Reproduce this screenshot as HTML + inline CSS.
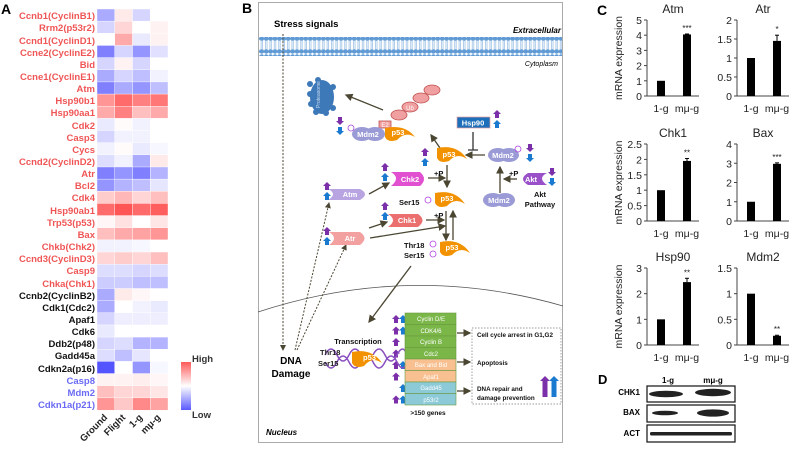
<!DOCTYPE html>
<html><head><meta charset="utf-8"><style>
html,body{margin:0;padding:0;background:#fff;width:800px;height:454px;overflow:hidden}
svg{display:block;font-family:"Liberation Sans",Arial,sans-serif}
</style></head><body>
<svg id="s" width="800" height="454" viewBox="0 0 800 454" xmlns="http://www.w3.org/2000/svg">
<defs>
<linearGradient id="lg" x1="0" y1="0" x2="0" y2="1"><stop offset="0" stop-color="#ff5a5a"/><stop offset="0.5" stop-color="#fff"/><stop offset="1" stop-color="#5a5aff"/></linearGradient>
<marker id="ah" markerWidth="6" markerHeight="6" refX="5" refY="3" orient="auto"><path d="M0,0 L6,3 L0,6 z" fill="#4a4632"/></marker>
<pattern id="mem" width="4.4" height="18" patternUnits="userSpaceOnUse"><circle cx="2.2" cy="2.6" r="2.3" fill="#5f9ad4"/><circle cx="2.2" cy="15.4" r="2.3" fill="#5f9ad4"/><line x1="1.5" y1="4" x2="1.5" y2="14" stroke="#8fb8e2" stroke-width="0.7"/><line x1="3" y1="4" x2="3" y2="14" stroke="#8fb8e2" stroke-width="0.7"/></pattern>
</defs>
<!-- Panel A -->
<text x="1" y="14" font-size="14" font-weight="bold">A</text>
<g id="heat"></g>
<g font-size="9.5" font-weight="bold" text-anchor="end">
<g fill="#f05555">
<text x="95" y="19">Ccnb1(CyclinB1)</text><text x="95" y="31">Rrm2(p53r2)</text><text x="95" y="44">Ccnd1(CyclinD1)</text><text x="95" y="56">Ccne2(CyclinE2)</text><text x="95" y="68">Bid</text><text x="95" y="80">Ccne1(CyclinE1)</text><text x="95" y="92">Atm</text><text x="95" y="104">Hsp90b1</text><text x="95" y="116">Hsp90aa1</text><text x="95" y="129">Cdk2</text><text x="95" y="141">Casp3</text><text x="95" y="153">Cycs</text><text x="95" y="165">Ccnd2(CyclinD2)</text><text x="95" y="177">Atr</text><text x="95" y="189">Bcl2</text><text x="95" y="201">Cdk4</text><text x="95" y="214">Hsp90ab1</text><text x="95" y="226">Trp53(p53)</text><text x="95" y="238">Bax</text><text x="95" y="250">Chkb(Chk2)</text><text x="95" y="262">Ccnd3(CyclinD3)</text><text x="95" y="274">Casp9</text><text x="95" y="287">Chka(Chk1)</text>
</g>
<g fill="#111">
<text x="95" y="299">Ccnb2(CyclinB2)</text><text x="95" y="311">Cdk1(Cdc2)</text><text x="95" y="323">Apaf1</text><text x="95" y="335">Cdk6</text><text x="95" y="347">Ddb2(p48)</text><text x="95" y="359">Gadd45a</text><text x="95" y="372">Cdkn2a(p16)</text>
</g>
<g fill="#6a6af5">
<text x="95" y="384">Casp8</text><text x="95" y="396">Mdm2</text><text x="95" y="408">Cdkn1a(p21)</text>
</g>
</g>
<rect x="181" y="362" width="10" height="48" fill="url(#lg)"/>
<text x="192" y="362" font-size="9.5" font-weight="bold" fill="#333">High</text>
<text x="192" y="418" font-size="9.5" font-weight="bold" fill="#333">Low</text>
<g font-size="9.5" font-weight="bold" fill="#222" text-anchor="end">
<text transform="translate(108,418) rotate(-45)">Ground</text>
<text transform="translate(126,418) rotate(-45)">Flight</text>
<text transform="translate(143,418) rotate(-45)">1-g</text>
<text transform="translate(161,418) rotate(-45)">mμ-g</text>
</g>
<!-- Panel B -->
<text x="242" y="13" font-size="14" font-weight="bold">B</text>
<rect x="258.5" y="2.5" width="304" height="440" fill="#fff" stroke="#aaa" stroke-width="1"/>
<rect x="259" y="37" width="303" height="19" fill="url(#mem)"/>
<text x="274" y="27" font-size="9.5" font-weight="bold">Stress signals</text>
<text x="561" y="33" font-size="8" font-weight="bold" font-style="italic" text-anchor="end">Extracellular</text>
<text x="558" y="66" font-size="7" font-style="italic" text-anchor="end">Cytoplasm</text>
<path d="M258,312 Q410,262 563,306" fill="none" stroke="#555" stroke-width="0.8"/>
<text x="266" y="435" font-size="8" font-weight="bold" font-style="italic">Nucleus</text>
<g stroke="#4a4632" stroke-width="1" fill="none" stroke-dasharray="2,1.5" marker-end="url(#ah)">
<line x1="283" y1="34" x2="283" y2="350"/>
<line x1="295" y1="350" x2="329" y2="203"/>
<line x1="297" y1="350" x2="346" y2="245"/>
</g>
<g fill="#3d78b8">
<ellipse cx="322" cy="97" rx="12" ry="17"/><circle cx="310" cy="84" r="3"/><circle cx="310" cy="94" r="3"/><circle cx="311" cy="104" r="3"/><circle cx="316" cy="112" r="3"/><circle cx="326" cy="113" r="3"/><circle cx="333" cy="108" r="3"/><circle cx="333" cy="87" r="3"/><circle cx="318" cy="80" r="3"/>
</g>
<text transform="translate(320,108) rotate(-90)" font-size="5" fill="#cde">Proteasome</text>
<g stroke="#4a4632" stroke-width="1.3" fill="none" marker-end="url(#ah)">
<line x1="383" y1="110" x2="346" y2="95"/>
<line x1="440" y1="148" x2="431" y2="135"/>
<line x1="485" y1="155" x2="466" y2="155"/>
<line x1="447" y1="165" x2="447" y2="187"/>
<line x1="428" y1="178" x2="445" y2="178"/>
<line x1="517" y1="179" x2="504" y2="179"/>
<line x1="500" y1="193" x2="500" y2="167"/>
<line x1="369" y1="194" x2="389" y2="183"/>
<line x1="369" y1="228" x2="387" y2="222"/>
<line x1="426" y1="220" x2="444" y2="220"/>
<line x1="370" y1="238" x2="445" y2="226"/>
<line x1="446" y1="211" x2="446" y2="240"/>
<line x1="453" y1="240" x2="453" y2="211"/>
<line x1="411" y1="266" x2="369" y2="322"/>
<line x1="457" y1="333" x2="470" y2="333"/>
<line x1="457" y1="362" x2="470" y2="362"/>
<line x1="457" y1="391" x2="470" y2="391"/>
</g>
<path d="M473,132 V150 M468,150 H478" stroke="#333" stroke-width="1.3"/>
<g fill="#f0a0a0" stroke="#c05050" stroke-width="0.8">
<ellipse cx="432" cy="90" rx="8" ry="5"/><ellipse cx="421" cy="98" rx="8" ry="5"/><ellipse cx="410" cy="107" rx="8" ry="5"/><ellipse cx="399" cy="115" rx="8" ry="5"/>
<rect x="379" y="121" width="12" height="7"/>
</g>
<text x="410" y="110" font-size="6" fill="#fff" text-anchor="middle">Ub</text>
<text x="385" y="127" font-size="6" fill="#fff" text-anchor="middle">E2</text>
<g font-size="7.5" font-weight="bold" fill="#fff" text-anchor="middle">
<ellipse cx="362" cy="134" rx="10" ry="7" fill="#9a9ad6"/><ellipse cx="375" cy="134" rx="10" ry="7" fill="#9a9ad6"/><text x="368" y="137">Mdm2</text>
<path d="M385,128 Q405,124 415,137 Q405,131 397,140 Q388,143 385,137 z" fill="#f39200"/><text x="398" y="135">p53</text>
<path d="M437,148 Q457,144 467,159 Q457,152 449,161 Q440,164 437,158 z" fill="#f39200"/><text x="449" y="157">p53</text>
<ellipse cx="498" cy="155" rx="10" ry="7" fill="#9a9ad6"/><ellipse cx="509" cy="155" rx="10" ry="7" fill="#9a9ad6"/><text x="503" y="158">Mdm2</text>
<ellipse cx="493" cy="200" rx="10" ry="7" fill="#9a9ad6"/><ellipse cx="505" cy="200" rx="10" ry="7" fill="#9a9ad6"/><text x="499" y="203">Mdm2</text>
<path d="M547,173 Q537,178 547,185 L528,185 Q518,179 528,173 z" fill="#9a50c8"/><text x="531" y="182">Akt</text>
<path d="M391,172 Q401,178 391,186 L420,186 Q428,179 420,172 z" fill="#e050d0"/><text x="410" y="182">Chk2</text>
<path d="M328,189 Q338,194 328,200 L360,200 Q370,194 360,189 z" fill="#b8a4e0"/><text x="350" y="197">Atm</text>
<path d="M388,214 Q398,220 388,227 L418,227 Q427,220 418,214 z" fill="#ec6f6f"/><text x="407" y="223">Chk1</text>
<path d="M329,232 Q339,238 329,245 L360,245 Q369,238 360,232 z" fill="#f2a0a0"/><text x="350" y="241">Atr</text>
<path d="M435,193 Q455,189 465,204 Q455,197 447,206 Q438,209 435,203 z" fill="#f39200"/><text x="447" y="201">p53</text>
<path d="M440,242 Q460,238 470,253 Q460,246 452,255 Q443,258 440,252 z" fill="#f39200"/><text x="452" y="250">p53</text>
<rect x="457" y="117" width="33" height="11" fill="#1e6fba" stroke="#e8a0a0" stroke-width="0.7"/><text x="473" y="125.5" font-size="7.5">Hsp90</text>
</g>
<g fill="none" stroke="#b040e0" stroke-width="0.8">
<circle cx="351" cy="128" r="3"/><circle cx="518" cy="149" r="3"/><circle cx="428" cy="200" r="3"/><circle cx="433" cy="244" r="3"/><circle cx="433" cy="254" r="3"/>
</g>
<g font-size="7.5" font-weight="bold" fill="#111">
<text x="434" y="176">+P</text><text x="509" y="176">+P</text><text x="434" y="218">+P</text>
<text x="399" y="205">Ser15</text><text x="404" y="248">Thr18</text><text x="404" y="258">Ser15</text>
<text x="540" y="197" text-anchor="middle">Akt</text><text x="540" y="207" text-anchor="middle">Pathway</text>
<text x="358" y="344" text-anchor="middle">Transcription</text>
<text x="428" y="415" text-anchor="middle" font-size="6.5">&gt;150 genes</text>
</g>
<text x="291" y="364" font-size="10" font-weight="bold" text-anchor="middle">DNA</text>
<text x="291" y="377" font-size="10" font-weight="bold" text-anchor="middle">Damage</text>
<g id="arrs"></g>
<path d="M325,355 q6,-12 12,0 t12,0 t12,0 t12,0 t12,0 t12,0 t10,0 M325,362 q6,12 12,0 t12,0 t12,0 t12,0 t12,0 t12,0 t10,0" stroke="#8a50c0" stroke-width="1.5" fill="none"/>
<g font-size="7.5" font-weight="bold" fill="#222"><text x="320" y="355">Thr18</text><text x="318" y="366">Ser15</text></g>
<path d="M352,352 Q372,348 382,363 Q372,356 364,366 Q355,369 352,363 z" fill="#f39200"/>
<text x="363" y="360" font-size="7.5" font-weight="bold" fill="#fff">p53</text>
<g stroke="#6a9a40" stroke-width="0.6">
<rect x="405" y="313" width="51" height="11.5" fill="#7ab648"/><rect x="405" y="324.5" width="51" height="11.5" fill="#7ab648"/><rect x="405" y="336" width="51" height="11.5" fill="#7ab648"/><rect x="405" y="347.5" width="51" height="11.5" fill="#7ab648"/>
<rect x="405" y="359" width="51" height="11.5" fill="#f8c090"/><rect x="405" y="370.5" width="51" height="11.5" fill="#f8c090"/><rect x="405" y="382" width="51" height="11.5" fill="#8ccad8"/><rect x="405" y="393.5" width="51" height="11.5" fill="#8ccad8"/>
</g>
<g font-size="6" fill="#fff" text-anchor="middle">
<text x="431" y="321">Cyclin D/E</text><text x="431" y="333">CDK4/6</text><text x="431" y="344">Cyclin B</text><text x="431" y="356">Cdc2</text><text x="431" y="367">Bax and Bid</text><text x="431" y="379">Apaf1</text><text x="431" y="390">Gadd45</text><text x="431" y="402">p53r2</text>
</g>
<rect x="472" y="328" width="89" height="76" fill="none" stroke="#777" stroke-dasharray="1.5,1.5" stroke-width="0.7"/>
<g font-size="6.3" font-weight="bold" fill="#111">
<text x="477" y="337">Cell cycle arrest in G1,G2</text><text x="477" y="365">Apoptosis</text><text x="477" y="391">DNA repair and</text><text x="477" y="400">damage prevention</text>
</g>
<!-- Panel C -->
<text x="597" y="15" font-size="14" font-weight="bold">C</text>
<g id="charts" font-size="10.5" fill="#222"></g>
<!-- Panel D -->
<text x="598" y="384" font-size="13" font-weight="bold">D</text>
<text x="668" y="383" font-size="8" font-weight="bold" text-anchor="middle">1-g</text>
<text x="713" y="383" font-size="8" font-weight="bold" text-anchor="middle">mμ-g</text>
<g font-size="8" font-weight="bold" text-anchor="end"><text x="640" y="395">CHK1</text><text x="640" y="415">BAX</text><text x="640" y="436">ACT</text></g>
<g fill="#fff" stroke="#111" stroke-width="1.2"><rect x="647" y="386" width="88" height="16"/><rect x="647" y="405" width="88" height="17"/><rect x="647" y="425" width="88" height="17"/></g>
<g fill="#222"><ellipse cx="666" cy="394" rx="17" ry="3.2"/><ellipse cx="713" cy="392.5" rx="18" ry="3.7"/><ellipse cx="665" cy="413" rx="13" ry="2.3"/><ellipse cx="713" cy="413" rx="16" ry="3.6"/><rect x="650" y="432" width="82" height="3.5" rx="1.5"/></g>
</svg>
<script>
var NS="http://www.w3.org/2000/svg";
function el(p,t,a){var e=document.createElementNS(NS,t);for(var k in a)e.setAttribute(k,a[k]);p.appendChild(e);return e;}
var H=[[-2,.5,-1,0],[-1,1,0,.3],[0,2,-.5,.3],[-3,-1,-2.5,-.7],[-1,.3,-1,0],[-2,-1,-1.5,-.3],[-3,-2,-2.5,-1.5],[2.5,3.5,3,3.2],[2,3,1.5,2],[-.5,.1,-.3,0],[-1,-.3,-.3,0],[-.3,.1,-.5,-.2],[-.8,-.3,-2,.5],[-3,-2.5,-3,-1.8],[-2.5,-1.8,-1.5,-.6],[1.2,1.7,1,1.5],[3.5,4,3.5,3.8],[.2,.7,0,.6],[1.5,2,2.2,2.5],[-.3,-.3,-.2,0],[1,1.2,1,1.5],[-.8,-.8,-1,-.8],[-1.2,-1.2,-1.5,-1.5],[-2,.5,.2,0],[-2,0,-.3,-.5],[-1,-.4,-.4,-.4],[-.5,0,0,0],[-1,-.8,-1.8,-1.8],[-.8,-1.5,-.6,0],[-4,0,-2.5,-.2],[.3,.3,.4,.2],[1.5,1,1,.6],[2.5,1.3,2.8,2.2]];
var g=document.getElementById("heat"),rh=401/33;
H.forEach(function(r,i){r.forEach(function(v,j){var t=Math.min(Math.abs(v)/4,1);var c=v>=0?[255,255-170*t,255-170*t]:[255-170*t,255-170*t,255];
el(g,"rect",{x:97+j*17.75,y:9+i*rh,width:17.75,height:rh+.2,fill:"rgb("+c.map(Math.round).join(",")+")",stroke:"#fff","stroke-width":0.4});});});
var a=document.getElementById("arrs");
function up(x,y,c){el(a,"path",{d:"M"+x+","+(y-4)+" l4,4 h-2 v4 h-4 v-4 h-2 z",fill:c});}
function dn(x,y,c){el(a,"path",{d:"M"+x+","+(y+4)+" l4,-4 h-2 v-4 h-4 v4 h-2 z",fill:c});}
var P="#7b2fa8",B="#1a7ad0";
up(385,167,P);up(385,177,B);up(327,186,P);up(327,196,B);up(385,206,P);up(385,216,B);up(327,231,P);up(327,241,B);
up(425,152,P);up(425,162,B);up(497,114,P);up(497,124,B);dn(340,121,P);dn(340,131,B);dn(530,148,P);dn(530,158,B);dn(552,172,P);dn(552,182,B);
var rows=[[1,1],[1,1],[1,0],[1,0],[1,1],[1,0],[0,1],[1,1]];
rows.forEach(function(r,i){var y=319+i*11.5;if(r[0])up(396,y,P);if(r[1])up(403,y,B);});
el(a,"path",{d:"M545,376 l5,5 h-2.5 v16 h-5 v-16 h-2.5 z",fill:P});el(a,"path",{d:"M554,376 l5,5 h-2.5 v16 h-5 v-16 h-2.5 z",fill:B});
var ch=document.getElementById("charts");
function txt(x,y,s,o){var e=el(ch,"text",Object.assign({x:x,y:y},o||{}));e.textContent=s;return e;}
function chart(ax,top,bot,max,ticks,v2,err,title,stars,ylab){
 el(ch,"line",{x1:ax,y1:top,x2:ax,y2:bot,stroke:"#444","stroke-width":1});
 el(ch,"line",{x1:ax,y1:bot,x2:ax+52,y2:bot,stroke:"#444","stroke-width":1});
 ticks.forEach(function(t){var y=bot-(bot-top)*t/max;el(ch,"line",{x1:ax-3,y1:y,x2:ax,y2:y,stroke:"#444"});txt(ax-5,y+4,String(t),{"text-anchor":"end"});});
 var h1=(bot-top)/max,y1=bot-h1;el(ch,"rect",{x:ax+10,y:y1,width:8,height:h1,fill:"#000"});
 var y2=bot-(bot-top)*v2/max;el(ch,"rect",{x:ax+36,y:y2,width:8,height:bot-y2,fill:"#000"});
 if(err){var ye=bot-(bot-top)*(v2+err)/max;el(ch,"line",{x1:ax+40,y1:ye,x2:ax+40,y2:y2,stroke:"#000"});el(ch,"line",{x1:ax+38,y1:ye,x2:ax+42,y2:ye,stroke:"#000"});}
 txt(ax+40,(err?bot-(bot-top)*(v2+err)/max:y2)-3,stars,{"text-anchor":"middle","font-size":"8"});
 txt(ax+14,bot+16,"1-g",{"text-anchor":"middle"});txt(ax+40,bot+16,"mμ-g",{"text-anchor":"middle"});
 txt(ax+26,top-7,title,{"text-anchor":"middle","font-size":"12"});
 if(ylab){txt(0,0,"mRNA expression",{"text-anchor":"middle",transform:"translate("+(ax-25)+","+((top+bot)/2)+") rotate(-90)"});}
}
chart(647,20,96,5,[0,1,2,3,4,5],4.05,0.03,"Atm","***",1);
chart(737,20,96,2,[0,0.5,1,1.5,2],1.45,0.15,"Atr","*",0);
chart(647,144,221,2.5,[0,0.5,1,1.5,2,2.5],1.95,0.08,"Chk1","**",1);
chart(737,144,221,4,[0,1,2,3,4],2.97,0.05,"Bax","***",0);
chart(647,268,345,3,[0,1,2,3],2.45,0.15,"Hsp90","**",1);
chart(737,268,345,1.5,[0,0.5,1,1.5],0.18,0.01,"Mdm2","**",0);
</script>
</body></html>
